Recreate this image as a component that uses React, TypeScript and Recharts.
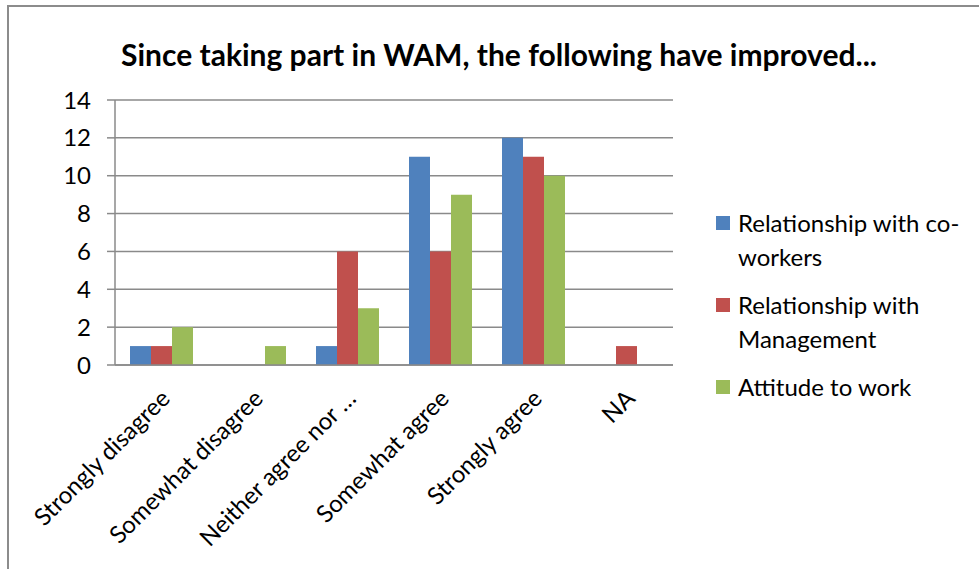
import React from 'react';
import { BarChart, Bar, XAxis, YAxis, CartesianGrid, Legend } from 'recharts';

const categories = [
  'Strongly disagree',
  'Somewhat disagree',
  'Neither agree nor …',
  'Somewhat agree',
  'Strongly agree',
  'NA',
];
const coworkers = [1, 0, 1, 11, 12, 0];
const management = [1, 0, 6, 6, 11, 1];
const attitude = [2, 1, 3, 9, 10, 0];
const yTicks = [0, 2, 4, 6, 8, 10, 12, 14];
const edgeTicks = [0, 1, 2, 3, 4, 5, 6];

const series = [
  { key: 'coworkers', name: 'Relationship with co-workers', lines: ['Relationship with co-', 'workers'], color: '#4F81BD' },
  { key: 'management', name: 'Relationship with Management', lines: ['Relationship with', 'Management'], color: '#C0504D' },
  { key: 'attitude', name: 'Attitude to work', lines: ['Attitude to work'], color: '#9BBB59' },
];

const data = categories.map((c, i) => ({
  category: c,
  coworkers: coworkers[i],
  management: management[i],
  attitude: attitude[i],
}));

const FONT = 'Lato, "Open Sans", sans-serif';
const GRID = '#8a8a8a';

function AngledTick(props: any) {
  const { x, y, payload } = props;
  return (
    <g transform={`translate(${x + 10},${y + 27})`}>
      <text transform="rotate(-45)" textAnchor="end" fontSize={24} fontFamily={FONT} fill="#000">
        {payload.value}
      </text>
    </g>
  );
}

function LegendBox() {
  return (
    <div style={{ fontFamily: FONT, fontSize: 24, color: '#000' }}>
      {series.map((s) => (
        <div key={s.key} style={{ position: 'relative', paddingLeft: 22, marginBottom: 14 }}>
          <span
            style={{
              position: 'absolute',
              left: 0,
              top: 10,
              width: 14,
              height: 14,
              background: s.color,
            }}
          />
          {s.lines.map((l) => (
            <div key={l} style={{ height: 34, lineHeight: '34px', whiteSpace: 'nowrap' }}>
              {l}
            </div>
          ))}
        </div>
      ))}
    </div>
  );
}

export default function App() {
  return (
    <div style={{ position: 'absolute', left: 0, top: 0, width: 979, height: 569, overflow: 'hidden', background: '#fff' }}>
      <div
        style={{
          position: 'absolute',
          left: 7,
          top: 5,
          width: 1000,
          height: 600,
          border: '2px solid #8c8c8c',
        }}
      />
      <div
        style={{
          position: 'absolute',
          left: 49,
          top: 36,
          width: 900,
          textAlign: 'center',
          fontFamily: FONT,
          fontWeight: 'bold',
          fontSize: 30,
          lineHeight: '36px',
          color: '#000',
        }}
      >
        Since taking part in WAM, the following have improved...
      </div>
      <div style={{ position: 'absolute', left: 0, top: 0 }}>
        <BarChart
          width={979}
          height={569}
          data={data}
          margin={{ top: 100, right: 46, bottom: 24, left: 55 }}
          barSize={21}
          barGap={0}
        >
          <CartesianGrid vertical={false} stroke={GRID} strokeWidth={1.5} />
          <XAxis
            xAxisId="edges"
            type="number"
            domain={[0, 6]}
            ticks={edgeTicks}
            allowDataOverflow
            height={0}
            axisLine={false}
            tickLine={{ stroke: GRID, strokeWidth: 1.5 }}
            tickSize={8}
            tick={() => <g />}
          />
          <XAxis
            xAxisId="cat"
            dataKey="category"
            interval={0}
            height={180}
            axisLine={{ stroke: GRID, strokeWidth: 1.5 }}
            tickLine={false}
            tick={<AngledTick />}
          />
          <YAxis
            domain={[0, 14]}
            ticks={yTicks}
            width={60}
            axisLine={{ stroke: GRID, strokeWidth: 1.5 }}
            tickLine={{ stroke: GRID, strokeWidth: 1.5 }}
            tickSize={8}
            tickMargin={16}
            tick={{ fontSize: 24, fontFamily: FONT, fill: '#000' }}
          />
          <Legend
            layout="vertical"
            align="right"
            verticalAlign="middle"
            content={<LegendBox />}
            wrapperStyle={{ left: 716, right: 'auto', top: 206, width: 260 }}
          />
          {series.map((s) => (
            <Bar
              key={s.key}
              xAxisId="cat"
              dataKey={s.key}
              name={s.name}
              fill={s.color}
              isAnimationActive={false}
            />
          ))}
        </BarChart>
      </div>
    </div>
  );
}
